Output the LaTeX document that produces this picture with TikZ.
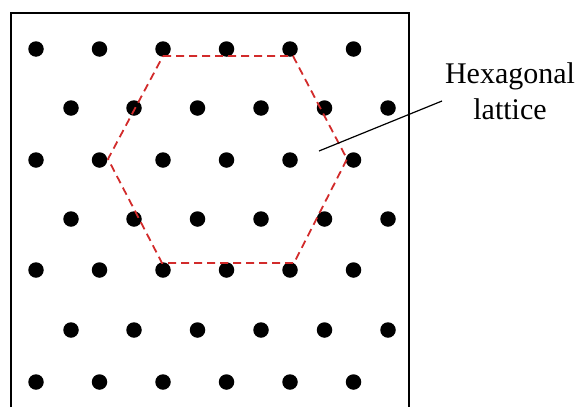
\documentclass[tikz,border=0pt]{standalone}
\usepackage{fontspec}
\setmainfont{Liberation Serif}
\usetikzlibrary{positioning}
\definecolor{hexred}{HTML}{D22B2B}

\begin{document}
\begin{tikzpicture}[x=1pt,y=-1pt,
  latticedot/.style={circle,fill=black,inner sep=0pt,minimum size=15.5pt},
  hexedge/.style={hexred,line width=1.8pt,dash pattern=on 8pt off 5pt}]
  \useasboundingbox (0,0) rectangle (580,407);

  % frame (its bottom edge lies below the picture)
  \draw[line width=2.4pt] (11,407) -- (11,13) -- (409,13) -- (409,407);

  % rows that start at the left edge
  \foreach \y [count=\r] in {49,160,270,382}{
    \foreach \x [count=\c] in {36,99.5,163,226.5,290,353.5}{
      \node[latticedot] (a\r\c) at (\x,\y) {};
    }
  }
  % shifted rows
  \foreach \y [count=\r] in {108,219,330}{
    \foreach \x [count=\c] in {71,134,197.5,261,324.5,388}{
      \node[latticedot] (b\r\c) at (\x,\y) {};
    }
  }

  % hexagonal cell
  \draw[hexedge] (163,56) -- (293,56) -- (347,159) -- (294,263)
    -- (162,263) -- (108,159) -- cycle;

  % label and pointer
  \node[font=\fontsize{30}{36}\selectfont,align=center,inner sep=0pt]
    (lbl) at (510,91) {Hexagonal\\lattice};
  \coordinate (tip) at (319,151);
  \coordinate (foot) at (442,101);
  \draw[line width=1.2pt] (tip) -- (foot);
\end{tikzpicture}
\end{document}
